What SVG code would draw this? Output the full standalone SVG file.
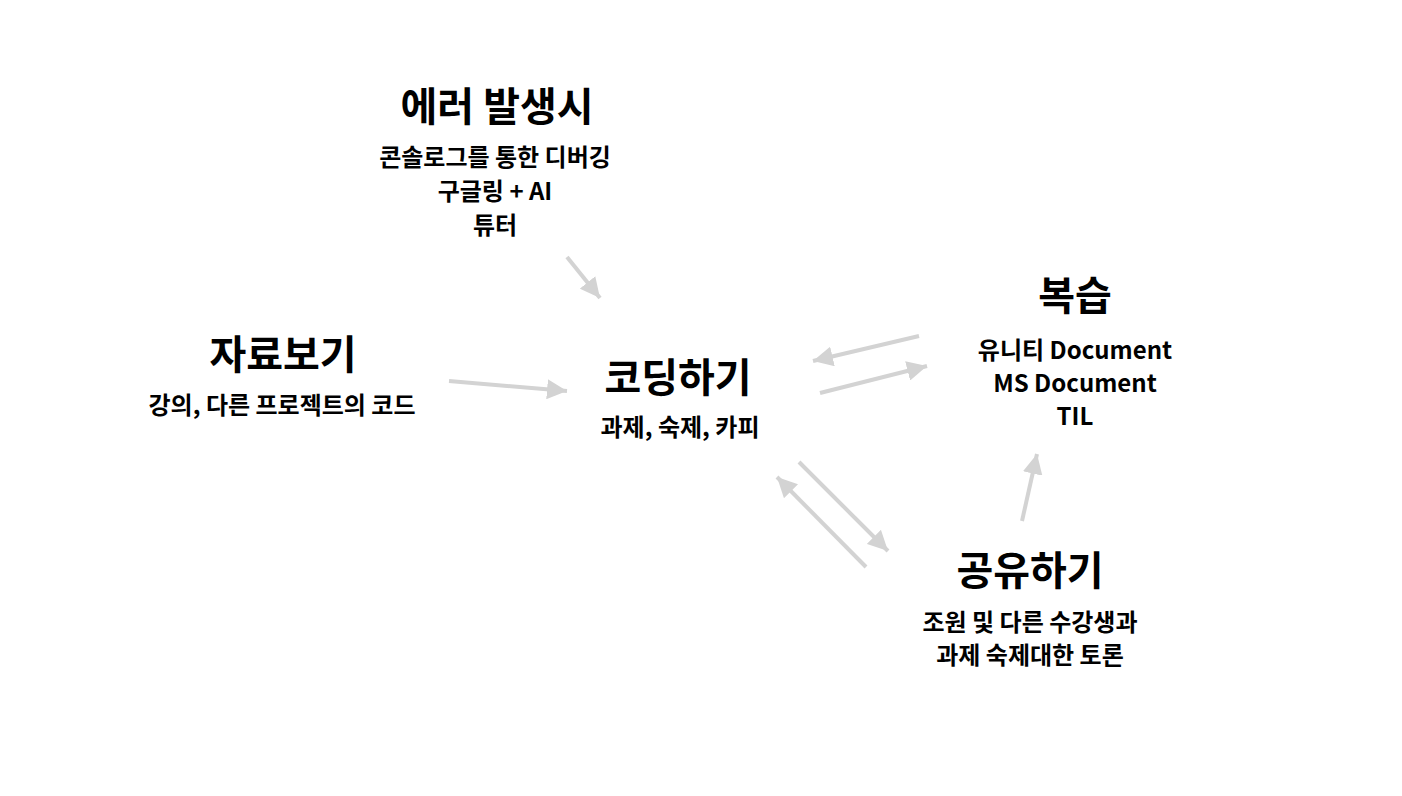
<svg xmlns="http://www.w3.org/2000/svg" width="1402" height="796" viewBox="0 0 1402 796">
<defs>
<marker id="ah" markerUnits="userSpaceOnUse" markerWidth="22" markerHeight="20" refX="20" refY="10" orient="auto">
<path d="M0,0 L20,10 L0,20 Z" fill="#d3d3d3"/>
</marker>
<style>
text{font-family:"Noto Sans CJK KR","Noto Sans",sans-serif;font-weight:bold;fill:#000;text-anchor:middle}
.t{font-size:40px}
.s{font-size:24px}
.c{stroke:#d3d3d3;stroke-width:4;fill:none;marker-end:url(#ah)}
</style>
</defs>
<rect width="1402" height="796" fill="#fff"/>
<g id="connectors">
<line class="c" x1="567" y1="257" x2="600" y2="298"/>
<line class="c" x1="449" y1="381" x2="567" y2="391"/>
<line class="c" x1="820" y1="393" x2="927" y2="366"/>
<line class="c" x1="919" y1="336" x2="813" y2="361"/>
<line class="c" x1="799" y1="462" x2="888" y2="551"/>
<line class="c" x1="866" y1="567" x2="777" y2="477"/>
<line class="c" x1="1022" y1="521" x2="1037" y2="454"/>
</g>
<g id="error">
<text class="t" x="497" y="121">에러 발생시</text>
<text class="s" x="495" y="166">콘솔로그를 통한 디버깅</text>
<text class="s" x="495" y="200">구글링 + AI</text>
<text class="s" x="495" y="234">튜터</text>
</g>
<g id="material">
<text class="t" x="283" y="369">자료보기</text>
<text class="s" x="282" y="414">강의, 다른 프로젝트의 코드</text>
</g>
<g id="coding">
<text class="t" x="678" y="392">코딩하기</text>
<text class="s" x="680" y="436">과제, 숙제, 카피</text>
</g>
<g id="review">
<text class="t" x="1075" y="310">복습</text>
<text class="s" x="1075" y="359">유니티 Document</text>
<text class="s" x="1075" y="392">MS Document</text>
<text class="s" x="1075" y="425">TIL</text>
</g>
<g id="share">
<text class="t" x="1030" y="585">공유하기</text>
<text class="s" x="1030" y="631">조원 및 다른 수강생과</text>
<text class="s" x="1030" y="664">과제 숙제대한 토론</text>
</g>
</svg>
